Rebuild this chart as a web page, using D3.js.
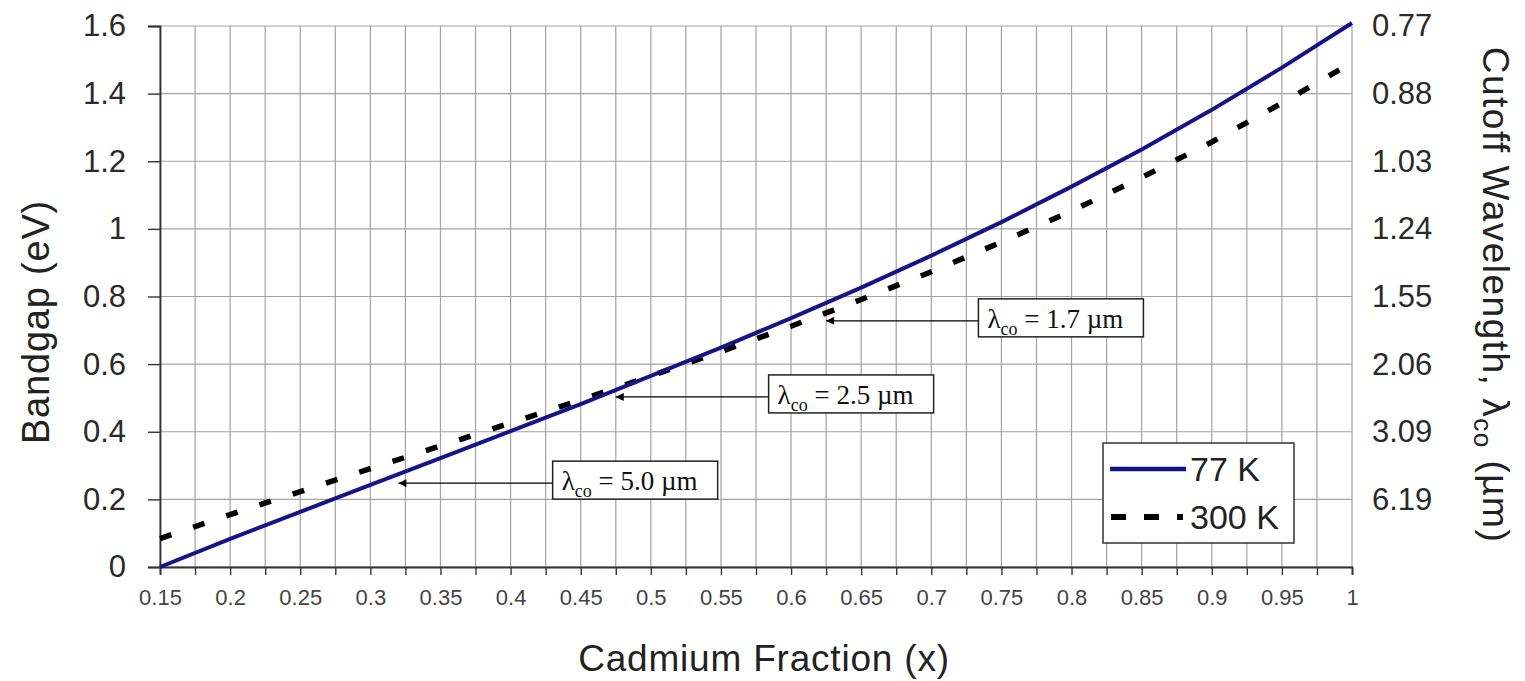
<!DOCTYPE html>
<html><head><meta charset="utf-8">
<script src="https://cdn.jsdelivr.net/npm/d3@7"></script>
<style>
body{margin:0;background:#fff;}
svg{display:block;font-family:"Liberation Sans",Arial,sans-serif;}
</style></head>
<body><svg id="chart" width="1525" height="681"></svg>
<script>
// ---- data ----
const xValues   = [0.15,0.2,0.25,0.3,0.35,0.4,0.45,0.5,0.55,0.6,0.65,0.7,0.75,0.8,0.85,0.9,0.95,1.0];
const eg77K     = [0.00,0.083,0.163,0.243,0.322,0.402,0.482,0.565,0.649,0.736,0.826,0.921,1.020,1.125,1.235,1.352,1.477,1.609];
const eg300K    = [0.084,0.155,0.223,0.291,0.358,0.426,0.494,0.565,0.637,0.712,0.791,0.873,0.961,1.053,1.152,1.257,1.372,1.492];
const xTickLabels = ["0.15","0.2","0.25","0.3","0.35","0.4","0.45","0.5","0.55","0.6","0.65","0.7","0.75","0.8","0.85","0.9","0.95","1"];
const yTicks    = [0,0.2,0.4,0.6,0.8,1.0,1.2,1.4,1.6];
const yTickLabels = ["0","0.2","0.4","0.6","0.8","1","1.2","1.4","1.6"];
const rightTicks  = [0.2,0.4,0.6,0.8,1.0,1.2,1.4,1.6];
const rightTickLabels = ["6.19","3.09","2.06","1.55","1.24","1.03","0.88","0.77"];
const seriesNames = ["77 K","300 K"];
// annotations: arrow tip (x,y) and box left position (bx)
const annotations = [
  {label:"5.0", tipX:0.32,  tipY:0.248, boxX:0.43},
  {label:"2.5", tipX:0.475, tipY:0.503, boxX:0.584},
  {label:"1.7", tipX:0.625, tipY:0.728, boxX:0.7336}
];

const svg = d3.select("#chart");
const L=160, R=1352, T=26, B=567;
const x = d3.scaleLinear().domain([0.15,1.0]).range([L,R]);
const y = d3.scaleLinear().domain([0,1.6]).range([B,T]);

// grid
const vGrid = d3.range(0, 35).map(i => 0.15 + i*0.025);
svg.append("g").selectAll("line").data(vGrid).join("line")
  .attr("x1",d=>x(d)).attr("x2",d=>x(d)).attr("y1",T).attr("y2",B)
  .attr("stroke","#a3a3a3").attr("stroke-width",1.2);
svg.append("g").selectAll("line").data(yTicks).join("line")
  .attr("x1",L).attr("x2",R).attr("y1",d=>y(d)).attr("y2",d=>y(d))
  .attr("stroke","#a3a3a3").attr("stroke-width",1.2);

// left axis
const yAxis = d3.axisLeft(y).tickValues(yTicks).tickSize(12).tickPadding(22)
  .tickFormat((d,i)=>yTickLabels[i]);
const gy = svg.append("g").attr("transform",`translate(${L},0)`).call(yAxis);
gy.select(".domain").attr("stroke","#333").attr("stroke-width",1.8);
gy.selectAll(".tick line").attr("stroke","#333").attr("stroke-width",1.4);
gy.selectAll("text").attr("font-size",31).attr("fill","#2a2a2a")
  .attr("font-family","Liberation Sans, Arial, sans-serif");

// bottom axis
const xAxis = d3.axisBottom(x).tickValues(vGrid).tickSize(8).tickPadding(14)
  .tickFormat(d => { const i = xValues.findIndex(v=>Math.abs(v-d)<1e-6); return i>=0 ? xTickLabels[i] : ""; });
const gx = svg.append("g").attr("transform",`translate(0,${B})`).call(xAxis);
gx.select(".domain").attr("stroke","#333").attr("stroke-width",1.8);
gx.selectAll(".tick line").attr("stroke","#333").attr("stroke-width",1.4);
gx.selectAll("text").attr("font-size",22).attr("fill","#444")
  .attr("font-family","Liberation Sans, Arial, sans-serif");

// right axis labels
const yR = d3.axisRight(y).tickValues(rightTicks).tickSize(0).tickPadding(20)
  .tickFormat((d,i)=>rightTickLabels[i]);
const gr = svg.append("g").attr("transform",`translate(${R},0)`).call(yR);
gr.select(".domain").remove();
gr.selectAll("text").attr("font-size",31).attr("fill","#2a2a2a")
  .attr("font-family","Liberation Sans, Arial, sans-serif");

// lines
const lineGen = d3.line().x((d,i)=>x(xValues[i])).y(d=>y(d));
svg.append("path").datum(eg300K).attr("d",lineGen)
  .attr("fill","none").attr("stroke","#000").attr("stroke-width",5.5)
  .attr("stroke-dasharray","12,23");
svg.append("path").datum(eg77K).attr("d",lineGen)
  .attr("fill","none").attr("stroke","#141487").attr("stroke-width",4);

// annotations
const defs = svg.append("defs");
defs.append("marker").attr("id","arr").attr("viewBox","0 0 10 10").attr("refX",10).attr("refY",5)
  .attr("markerWidth",12).attr("markerHeight",8).attr("markerUnits","userSpaceOnUse").attr("orient","auto")
  .append("path").attr("d","M0,0 L10,5 L0,10 Z").attr("fill","#000");
annotations.forEach(a=>{
  const bx = x(a.boxX), ty = y(a.tipY);
  const g = svg.append("g");
  g.append("line").attr("x1",bx).attr("y1",ty).attr("x2",x(a.tipX)).attr("y2",ty)
    .attr("stroke","#000").attr("stroke-width",1.3).attr("marker-end","url(#arr)");
  g.append("rect").attr("x",bx).attr("y",ty-22).attr("width",165).attr("height",38)
    .attr("fill","#fff").attr("stroke","#222").attr("stroke-width",1.5);
  const t = g.append("text").attr("x",bx+9).attr("y",ty+7)
    .attr("font-family","Liberation Serif, Times New Roman, serif").attr("font-size",27).attr("fill","#111");
  t.append("tspan").text("λ");
  t.append("tspan").attr("font-size",18).attr("dy",7).text("co");
  t.append("tspan").attr("dy",-7).text(" = " + a.label + " µm");
});

// legend
const lg = svg.append("g");
lg.append("rect").attr("x",1103).attr("y",443).attr("width",191).attr("height",100)
  .attr("fill","#fff").attr("stroke","#333").attr("stroke-width",1.5);
lg.append("line").attr("x1",1110).attr("x2",1186).attr("y1",469).attr("y2",469)
  .attr("stroke","#141487").attr("stroke-width",4.5);
lg.append("line").attr("x1",1111).attr("x2",1183).attr("y1",517).attr("y2",517)
  .attr("stroke","#000").attr("stroke-width",6).attr("stroke-dasharray","15,18");
lg.selectAll("text").data(seriesNames).join("text")
  .attr("x",1190).attr("y",(d,i)=>481+i*48).text(d=>d)
  .attr("font-size",34).attr("fill","#222");

// axis titles
svg.append("text").attr("x",764).attr("y",671).attr("text-anchor","middle")
  .attr("font-size",37).attr("letter-spacing",0.8).attr("fill","#222").text("Cadmium Fraction (x)");
svg.append("text").attr("transform","translate(49,322) rotate(-90)").attr("text-anchor","middle")
  .attr("font-size",38).attr("letter-spacing",0.8).attr("fill","#222").text("Bandgap (eV)");
const rt = svg.append("text").attr("transform","translate(1483,295) rotate(90)").attr("text-anchor","middle")
  .attr("font-size",37).attr("letter-spacing",1.5).attr("fill","#222");
rt.append("tspan").text("Cutoff Wavelength, λ");
rt.append("tspan").attr("font-size",26).attr("dy",9).text("co");
rt.append("tspan").attr("dy",-9).text(" (µm)");
</script></body></html>
